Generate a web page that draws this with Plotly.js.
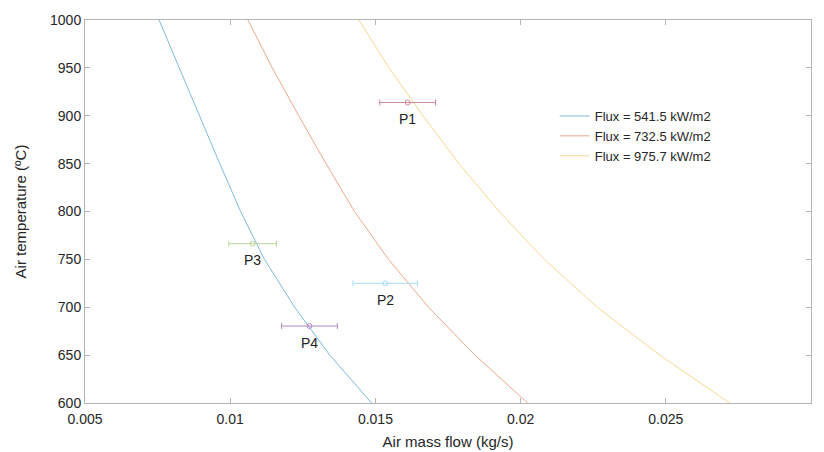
<!DOCTYPE html>
<html>
<head>
<meta charset="utf-8">
<script src="https://cdn.plot.ly/plotly-3.0.1.min.js"></script>
<style>html,body{margin:0;padding:0;background:#fff;}#chart{width:824px;height:452px;}</style>
</head>
<body>
<div id="chart"></div>
<script>
// Air temperatures (ºC) at which the curves are sampled
var temps = [1000, 950, 900, 850, 800, 750, 700, 650, 600];
// Air mass flow (kg/s) for each flux level
var flow541 = [0.00755, 0.00824, 0.00894, 0.00964, 0.01036, 0.01118, 0.01222, 0.01343, 0.01487];
var flow732 = [0.01061, 0.01145, 0.01236, 0.01330, 0.01428, 0.01545, 0.01683, 0.01843, 0.02024];
var flow975 = [0.01443, 0.01547, 0.01664, 0.01788, 0.01926, 0.02082, 0.02264, 0.02479, 0.02720];
var seriesNames = ["Flux = 541.5 kW/m2", "Flux = 732.5 kW/m2", "Flux = 975.7 kW/m2"];

// Measured points
var pointLabels = ["P1", "P2", "P3", "P4"];
var pointFlow = [0.01611, 0.01534, 0.01077, 0.01273];
var pointTemp = [913.8, 725, 766.4, 680.4];
var pointErr = [0.00096, 0.00111, 0.00082, 0.00096];

var curveColors = ["#80b9de", "#eca98c", "#f6d88f"];
var pointColors = ["#d08997", "#a6def6", "#bbd597", "#b389c2"];

var traces = [];
[flow541, flow732, flow975].forEach(function (f, i) {
  traces.push({
    x: f, y: temps, type: "scatter", mode: "lines",
    name: seriesNames[i],
    line: {color: curveColors[i], width: 1}
  });
});
pointLabels.forEach(function (lab, i) {
  traces.push({
    x: [pointFlow[i]], y: [pointTemp[i]], type: "scatter", mode: "markers",
    showlegend: false, name: lab,
    marker: {symbol: "circle-open", size: 5, color: pointColors[i], line: {width: 1, color: pointColors[i]}},
    error_x: {type: "data", array: [pointErr[i]], visible: true, color: pointColors[i], thickness: 1, width: 3}
  });
});

var annotations = pointLabels.map(function (lab, i) {
  return {x: pointFlow[i], y: pointTemp[i], xref: "x", yref: "y", text: lab,
    showarrow: false, yshift: -16.5, font: {size: 14, color: "#222"}};
});

var axisCommon = {
  showgrid: false, zeroline: false, showline: true, linecolor: "#b4b4b4", linewidth: 1,
  mirror: "ticks", ticks: "inside", ticklen: 5, tickcolor: "#b4b4b4",
  tickfont: {size: 14, color: "#262626"}
};

var layout = {
  width: 824, height: 452,
  margin: {l: 85, r: 13, t: 20, b: 49},
  paper_bgcolor: "#fff", plot_bgcolor: "#fff",
  font: {family: "Liberation Sans, Arial, sans-serif", color: "#262626"},
  showlegend: true,
  legend: {x: 0.647, y: 0.7885, xanchor: "left", yanchor: "top", bgcolor: "rgba(0,0,0,0)",
    font: {size: 13, color: "#262626"}, itemwidth: 30, tracegroupgap: 0},
  xaxis: Object.assign({}, axisCommon, {range: [0.005, 0.03], tickvals: [0.005, 0.01, 0.015, 0.02, 0.025, 0.03],
    ticktext: ["0.005", "0.01", "0.015", "0.02", "0.025", "0.03"], ticklabelstandoff: 3,
    title: {text: "Air mass flow (kg/s)", font: {size: 15, color: "#262626"}, standoff: 10}}),
  yaxis: Object.assign({}, axisCommon, {range: [600, 1000], dtick: 50,
    title: {text: "Air temperature (ºC)", font: {size: 15, color: "#262626"}, standoff: 19}}),
  annotations: annotations
};

Plotly.newPlot("chart", traces, layout, {displayModeBar: false, staticPlot: true});
</script>
</body>
</html>
